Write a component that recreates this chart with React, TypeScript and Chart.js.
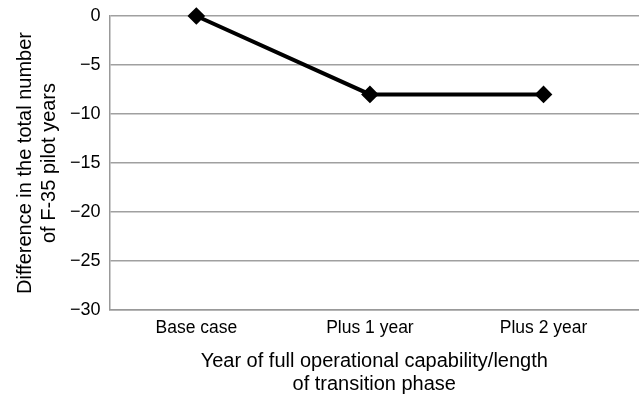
import React, { useEffect, useRef } from "react";
import { Chart, registerables } from "chart.js";

Chart.register(...registerables);

const categories = ["Base case", "Plus 1 year", "Plus 2 year"];
const values = [0, -8, -8];
const yTicks = [0, -5, -10, -15, -20, -25, -30];
const yTitle = ["Difference in the total number", "of F-35 pilot years"];
const xTitle = ["Year of full operational capability/length", "of transition phase"];

const FONT = "'Liberation Sans', Arial, sans-serif";

export default function App() {
  const ref = useRef<HTMLCanvasElement | null>(null);
  useEffect(() => {
    if (!ref.current) return;
    const chart = new Chart(ref.current, {
      type: "line",
      data: {
        datasets: [
          {
            data: values.map((v, i) => ({ x: i, y: v })),
            borderColor: "#000",
            backgroundColor: "#000",
            borderWidth: 4,
            pointStyle: "rectRot",
            pointRadius: 6,
            pointHoverRadius: 6,
            tension: 0,
            clip: false,
          },
        ],
      },
      options: {
        animation: false,
        responsive: false,
        maintainAspectRatio: false,
        layout: { autoPadding: false, padding: { top: 16, left: 13, right: 0, bottom: 0 } },
        plugins: { legend: { display: false }, tooltip: { enabled: false } },
        scales: {
          x: {
            type: "linear",
            min: -0.5,
            max: 2.55,
            afterBuildTicks: (axis: any) => {
              axis.ticks = categories.map((_, i) => ({ value: i }));
            },
            afterFit: (scale: any) => {
              scale.paddingLeft = 0;
              scale.paddingRight = 0;
            },
            ticks: {
              callback: (v: any) => categories[Math.round(Number(v))] ?? "",
              color: "#000",
              font: { family: FONT, size: 17.5 },
              padding: 8,
              maxRotation: 0,
            },
            grid: { display: false, drawTicks: false },
            border: { display: true, color: "#999", width: 1.5 },
            title: {
              display: true,
              text: xTitle,
              color: "#000",
              font: { family: FONT, size: 20, lineHeight: 1.15 },
              padding: { top: 3, bottom: 0 },
            },
          },
          y: {
            min: -30,
            max: 0,
            afterBuildTicks: (axis: any) => {
              axis.ticks = yTicks.map((v) => ({ value: v }));
            },
            afterFit: (scale: any) => {
              scale.paddingTop = 0;
              scale.paddingBottom = 0;
            },
            ticks: {
              callback: (v: any) => String(v).replace("-", "\u2212"),
              color: "#000",
              font: { family: FONT, size: 18 },
              padding: 9,
            },
            grid: { color: "#a0a0a0", lineWidth: 1.5, drawTicks: false },
            border: { display: true, color: "#999", width: 1.5 },
            title: {
              display: true,
              text: yTitle,
              color: "#000",
              font: { family: FONT, size: 20, lineHeight: 1.2 },
              padding: { top: 0, bottom: 0 },
            },
          },
        },
      },
    } as any);
    return () => chart.destroy();
  }, []);
  return (
    <div style={{ position: "fixed", left: 0, top: 0, width: 639, height: 396, overflow: "hidden", background: "#fff" }}>
      <canvas ref={ref} width={639} height={396} style={{ width: 639, height: 396, display: "block" }} />
    </div>
  );
}
